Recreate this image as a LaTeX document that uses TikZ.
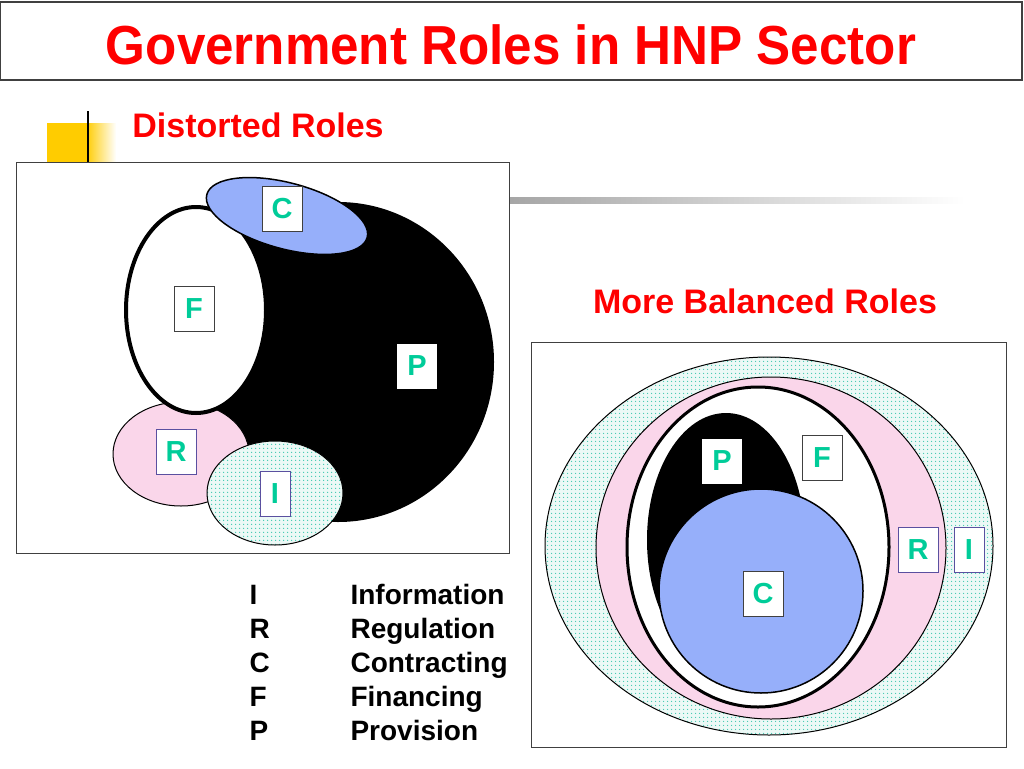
\documentclass[tikz,border=0pt]{standalone}
\usepackage{fontspec}
\setmainfont{Liberation Sans}
\newfontfamily\narrowsf[FakeStretch=0.93]{Liberation Sans}
\usepackage{tikz}
\usetikzlibrary{patterns.meta}
\usepackage{xcolor}
\definecolor{roleblue}{RGB}{150,175,250}
\definecolor{rolepink}{RGB}{250,214,234}
\definecolor{rolegreen}{RGB}{0,204,153}
\definecolor{dotgreen}{RGB}{60,200,175}
\definecolor{dotback}{RGB}{236,249,246}
\definecolor{boxpurple}{RGB}{90,80,160}
\definecolor{baryellow}{RGB}{255,204,0}

\begin{document}
\begin{tikzpicture}[
    x=1pt, y=-1pt,
    letter/.style={fill=white, minimum width=40pt, minimum height=45pt,
                   inner sep=0pt, text=rolegreen,
                   font=\fontsize{29}{29}\selectfont\bfseries},
    darkbox/.style={letter, draw=black!75, line width=1pt},
    purplebox/.style={letter, draw=boxpurple, line width=1pt},
    heading/.style={text=red, font=\fontsize{34}{34}\selectfont\bfseries},
    keyword/.style={anchor=base west, font=\fontsize{28}{28}\selectfont\bfseries},
    frame/.style={draw=black!75, line width=1pt},
    dotfill/.style={preaction={fill=dotback},
                    pattern={Dots[distance=4pt, radius=0.8pt]},
                    pattern color=dotgreen}
]
\useasboundingbox (0,0) rectangle (1024,768);

% ============================
% Title
% ============================
\draw[frame, line width=1.5pt] (0,2) rectangle (1022,80);
\node[text=red, font=\fontsize{55}{55}\selectfont\narrowsf\bfseries]
    (title) at (511,45) {Government Roles in HNP Sector};

% ============================
% Distorted Roles
% ============================
\begin{scope}
    % Bullet and rule
    \fill[baryellow] (47,123) rectangle (86,162);
    \shade[left color=baryellow, right color=white] (86,123) rectangle (116,162);
    \draw[line width=2.5pt] (88,111) -- (88,162);
    \shade[left color=black!35, right color=white] (510,197) rectangle (965,203);
    \node[heading] (distorted) at (258,125) {Distorted Roles};
    \draw[frame] (16,162) rectangle (509,553);
    % Ovals
    \fill[black] (338,362) ellipse [x radius=156, y radius=160];
    \draw[fill=rolepink, line width=1pt] (181,454) ellipse [x radius=68, y radius=52];
    \draw[fill=white, line width=4pt] (196,310) ellipse [x radius=70, y radius=103];
    \draw[fill=roleblue, line width=1.5pt, rotate around={-15:(287,216)}]
        (287,216) ellipse [x radius=83, y radius=33];
    \draw[dotfill, line width=1pt] (275,493) ellipse [x radius=68, y radius=52];
    % Labels
    \node[darkbox] (distC) at (282,209) {C};
    \node[darkbox] (distF) at (194,309) {F};
    \node[letter] (distP) at (417,366) {P};
    \node[purplebox] (distR) at (176,452) {R};
    \node[purplebox, minimum width=30pt] (distI) at (275,494) {I};
\end{scope}

% ============================
% Legend
% ============================
\node[keyword] (keyI) at (246,604) {I};
\node[keyword] (keyR) at (246,638) {R};
\node[keyword] (keyC) at (246,672) {C};
\node[keyword] (keyF) at (246,706) {F};
\node[keyword] (keyP) at (246,740) {P};
\node[keyword] (roleI) at (347,604) {Information};
\node[keyword] (roleR) at (347,638) {Regulation};
\node[keyword] (roleC) at (347,672) {Contracting};
\node[keyword] (roleF) at (347,706) {Financing};
\node[keyword] (roleP) at (347,740) {Provision};

% ============================
% More Balanced Roles
% ============================
\begin{scope}
    \node[heading] (balanced) at (765,301) {More Balanced Roles};
    \draw[frame] (531,342) rectangle (1006,747);
    % Ovals
    \draw[dotfill, line width=1pt] (769,546) ellipse [x radius=224, y radius=189];
    \draw[fill=rolepink, line width=1pt] (771,548) ellipse [x radius=175, y radius=171];
    \draw[fill=white, line width=3pt] (758,547) ellipse [x radius=131, y radius=160];
    \fill[black] (726,540) ellipse [x radius=79, y radius=127];
    \draw[fill=roleblue, line width=1.5pt] (761,591) circle [radius=102];
    % Labels
    \node[letter] (balP) at (722,461) {P};
    \node[darkbox] (balF) at (822,458) {F};
    \node[darkbox] (balC) at (763,594) {C};
    \node[purplebox] (balR) at (918,550) {R};
    \node[purplebox, minimum width=30pt] (balI) at (969,550) {I};
\end{scope}

\end{tikzpicture}
\end{document}
